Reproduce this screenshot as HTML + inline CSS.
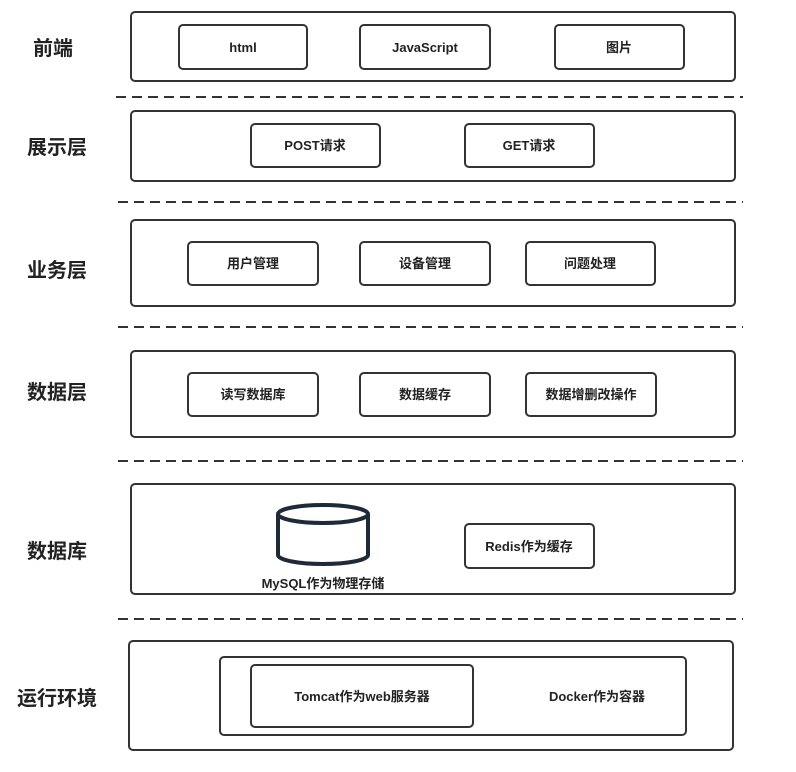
<!DOCTYPE html>
<html><head><meta charset="utf-8"><style>
html,body{margin:0;padding:0;background:#fff;}
svg text{font-family:"Liberation Sans","Noto Sans CJK SC",sans-serif;font-weight:bold;fill:#222;}
</style></head><body>
<svg width="796" height="767" viewBox="0 0 796 767" xmlns="http://www.w3.org/2000/svg">
<g fill="none" stroke="#333" stroke-width="2">
<rect x="131" y="12" width="604" height="69" rx="4"/>
<rect x="179" y="25" width="128" height="44" rx="4"/>
<rect x="360" y="25" width="130" height="44" rx="4"/>
<rect x="555" y="25" width="129" height="44" rx="4"/>
<rect x="131" y="111" width="604" height="70" rx="4"/>
<rect x="251" y="124" width="129" height="43" rx="4"/>
<rect x="465" y="124" width="129" height="43" rx="4"/>
<rect x="131" y="220" width="604" height="86" rx="4"/>
<rect x="188" y="242" width="130" height="43" rx="4"/>
<rect x="360" y="242" width="130" height="43" rx="4"/>
<rect x="526" y="242" width="129" height="43" rx="4"/>
<rect x="131" y="351" width="604" height="86" rx="4"/>
<rect x="188" y="373" width="130" height="43" rx="4"/>
<rect x="360" y="373" width="130" height="43" rx="4"/>
<rect x="526" y="373" width="130" height="43" rx="4"/>
<rect x="131" y="484" width="604" height="110" rx="4"/>
<rect x="465" y="524" width="129" height="44" rx="4"/>
<rect x="129" y="641" width="604" height="109" rx="4"/>
<rect x="220" y="657" width="466" height="78" rx="4"/>
<rect x="251" y="665" width="222" height="62" rx="4"/>
</g>
<g stroke="#333" stroke-width="2" stroke-dasharray="10,6">
<line x1="116" y1="97" x2="743" y2="97"/>
<line x1="118" y1="202" x2="743" y2="202"/>
<line x1="118" y1="327" x2="743" y2="327"/>
<line x1="118" y1="461" x2="743" y2="461"/>
<line x1="118" y1="619" x2="743" y2="619"/>
</g>
<g fill="#fff" stroke="#1f2a38" stroke-width="4">
<path d="M278 514 L278 555 A45 9 0 0 0 368 555 L368 514"/>
<ellipse cx="323" cy="514" rx="45" ry="9"/>
</g>
<g font-size="20" text-anchor="middle">
<text x="53" y="55">前端</text>
<text x="57" y="154">展示层</text>
<text x="57" y="277">业务层</text>
<text x="57" y="399">数据层</text>
<text x="57" y="558">数据库</text>
<text x="57" y="705">运行环境</text>
</g>
<g font-size="13" text-anchor="middle">
<text x="243" y="52">html</text>
<text x="425" y="52">JavaScript</text>
<text x="619" y="52">图片</text>
<text x="315" y="150">POST请求</text>
<text x="529" y="150">GET请求</text>
<text x="253" y="268">用户管理</text>
<text x="425" y="268">设备管理</text>
<text x="590" y="268">问题处理</text>
<text x="253" y="399">读写数据库</text>
<text x="425" y="399">数据缓存</text>
<text x="591" y="399">数据增删改操作</text>
<text x="529" y="551">Redis作为缓存</text>
<text x="323" y="588">MySQL作为物理存储</text>
<text x="362" y="701">Tomcat作为web服务器</text>
<text x="597" y="701">Docker作为容器</text>
</g>
</svg>
</body></html>
